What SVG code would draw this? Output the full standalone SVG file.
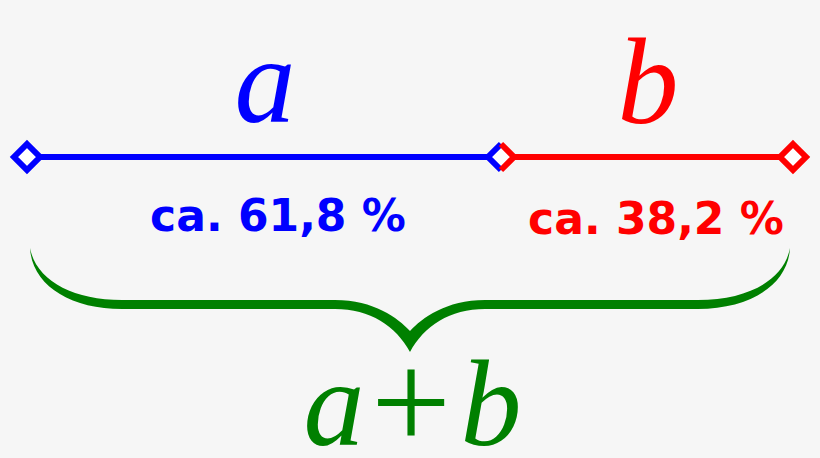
<svg xmlns="http://www.w3.org/2000/svg" width="820" height="458" viewBox="0 0 820 458">
<style>
.var{font-family:"Liberation Serif","DejaVu Serif",serif;font-style:italic;font-size:122px;text-anchor:middle}
.op{font-family:"Liberation Serif","DejaVu Serif",serif;font-style:normal;font-size:142px}
.pct{font-family:"DejaVu Sans","Liberation Sans",sans-serif;font-weight:bold;font-size:44px;text-anchor:middle}
.seg{stroke-width:6;fill:none}
.dia{stroke-width:6;fill:#ffffff}
</style>
<rect width="820" height="458" fill="#f6f6f6"/>
<g id="connectors">
<line class="seg" x1="28" y1="157" x2="500" y2="157" stroke="#0000ff"/>
<line class="seg" x1="500" y1="157" x2="792" y2="157" stroke="#ff0000"/>
</g>
<g id="node-left">
<path class="dia" d="M27 144 L40 157 L27 170 L14 157 Z" stroke="#0000ff"/>
</g>
<g id="node-mid">
<path d="M501 144 L488 157 L501 170 Z" fill="#ffffff"/>
<path d="M501 144 L514 157 L501 170 Z" fill="#ffffff"/>
<path d="M501 144 L488 157 L501 170" stroke="#0000ff" stroke-width="6" fill="none"/>
<path d="M501 144 L514 157 L501 170" stroke="#ff0000" stroke-width="6" fill="none"/>
</g>
<g id="node-right">
<path class="dia" d="M793 144 L806 157 L793 170 L780 157 Z" stroke="#ff0000"/>
</g>
<g id="label-a">
<text class="var" x="265" y="122" fill="#0000ff">a</text>
<text class="pct" x="278" y="231" fill="#0000ff">ca. 61,8 %</text>
</g>
<g id="label-b">
<text class="var" x="648" y="123" fill="#ff0000">b</text>
<text class="pct" x="656" y="234" fill="#ff0000">ca. 38,2 %</text>
</g>
<g id="brace">
<path fill="#008000" d="M30 248 C32 285 70 309 122 309 L335 309 C370 309 396 326 410 352 C424 326 450 309 485 309 L698 309 C750 309 788 285 790 248 C784 280 748 300 698 300 L485 300 C446 300 422 318 410 331 C398 318 374 300 335 300 L122 300 C72 300 36 280 30 248 Z"/>
</g>
<g id="label-sum">
<text y="445" fill="#008000" text-anchor="middle"><tspan class="var" x="334">a</tspan><tspan class="op" x="411" y="450">+</tspan><tspan class="var" x="491" y="445">b</tspan></text>
</g>
</svg>
